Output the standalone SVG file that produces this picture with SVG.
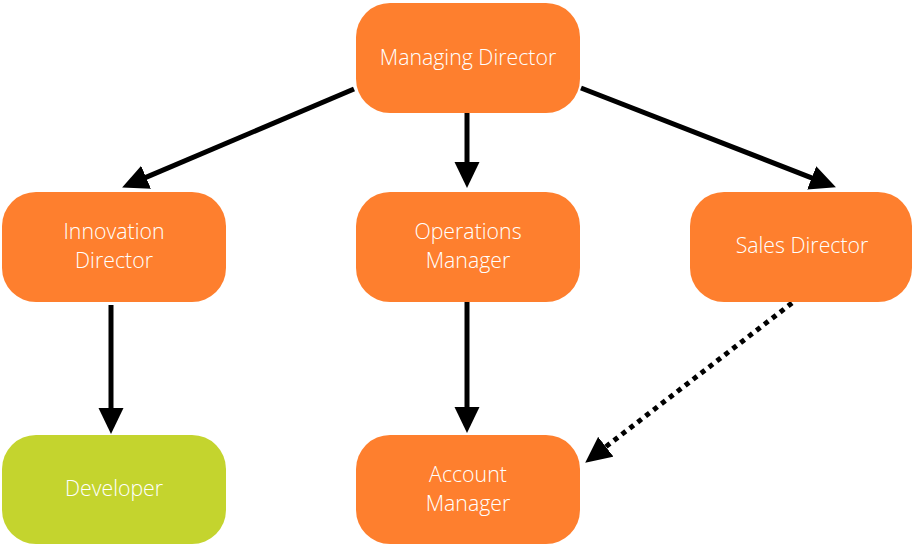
<svg xmlns="http://www.w3.org/2000/svg" width="913" height="545" viewBox="0 0 913 545">
<style>
.box{fill:#FE7F2E}
.green{fill:#C4D42E}
.t{font-family:"Open Sans",Lato,"Liberation Sans",sans-serif;font-weight:300;font-size:21.3px;fill:#FFFFFF;text-anchor:middle}
.c{fill:none;stroke:#000;stroke-width:5}
.dot{stroke-dasharray:5 5}
</style>
<defs>
<marker id="ah" markerUnits="userSpaceOnUse" markerWidth="26" markerHeight="26" viewBox="0 0 26 26" refX="13" refY="13" orient="auto">
<path d="M0,0.5 L26,13 L0,25.5 z" fill="#000"/>
</marker>
</defs>
<rect width="913" height="545" fill="#fff"/>
<g id="connectors">
<line class="c" x1="354" y1="89" x2="134.1" y2="182.4" marker-end="url(#ah)"/>
<line class="c" x1="467" y1="113" x2="467" y2="175" marker-end="url(#ah)"/>
<line class="c" x1="581" y1="88" x2="823.8" y2="182.6" marker-end="url(#ah)"/>
<line class="c" x1="111" y1="305" x2="111" y2="421" marker-end="url(#ah)"/>
<line class="c" x1="467" y1="302" x2="467" y2="420" marker-end="url(#ah)"/>
<line class="c dot" x1="792" y1="303" x2="595.5" y2="454.7" marker-end="url(#ah)"/>
</g>
<g id="managing-director">
<rect class="box" x="356" y="3" width="224" height="110" rx="34"/>
<text class="t" x="468" y="65">Managing Director</text>
</g>
<g id="innovation-director">
<rect class="box" x="2" y="192" width="224" height="110" rx="34"/>
<text class="t" x="114" y="239">Innovation</text>
<text class="t" x="114" y="268">Director</text>
</g>
<g id="operations-manager">
<rect class="box" x="356" y="192" width="224" height="110" rx="34"/>
<text class="t" x="468" y="239">Operations</text>
<text class="t" x="468" y="268">Manager</text>
</g>
<g id="sales-director">
<rect class="box" x="690" y="192" width="222" height="110" rx="34"/>
<text class="t" x="802" y="253">Sales Director</text>
</g>
<g id="developer">
<rect class="green" x="2" y="435" width="224" height="109" rx="34"/>
<text class="t" x="114" y="496">Developer</text>
</g>
<g id="account-manager">
<rect class="box" x="356" y="435" width="224" height="109" rx="34"/>
<text class="t" x="468" y="482">Account</text>
<text class="t" x="468" y="511">Manager</text>
</g>
</svg>
